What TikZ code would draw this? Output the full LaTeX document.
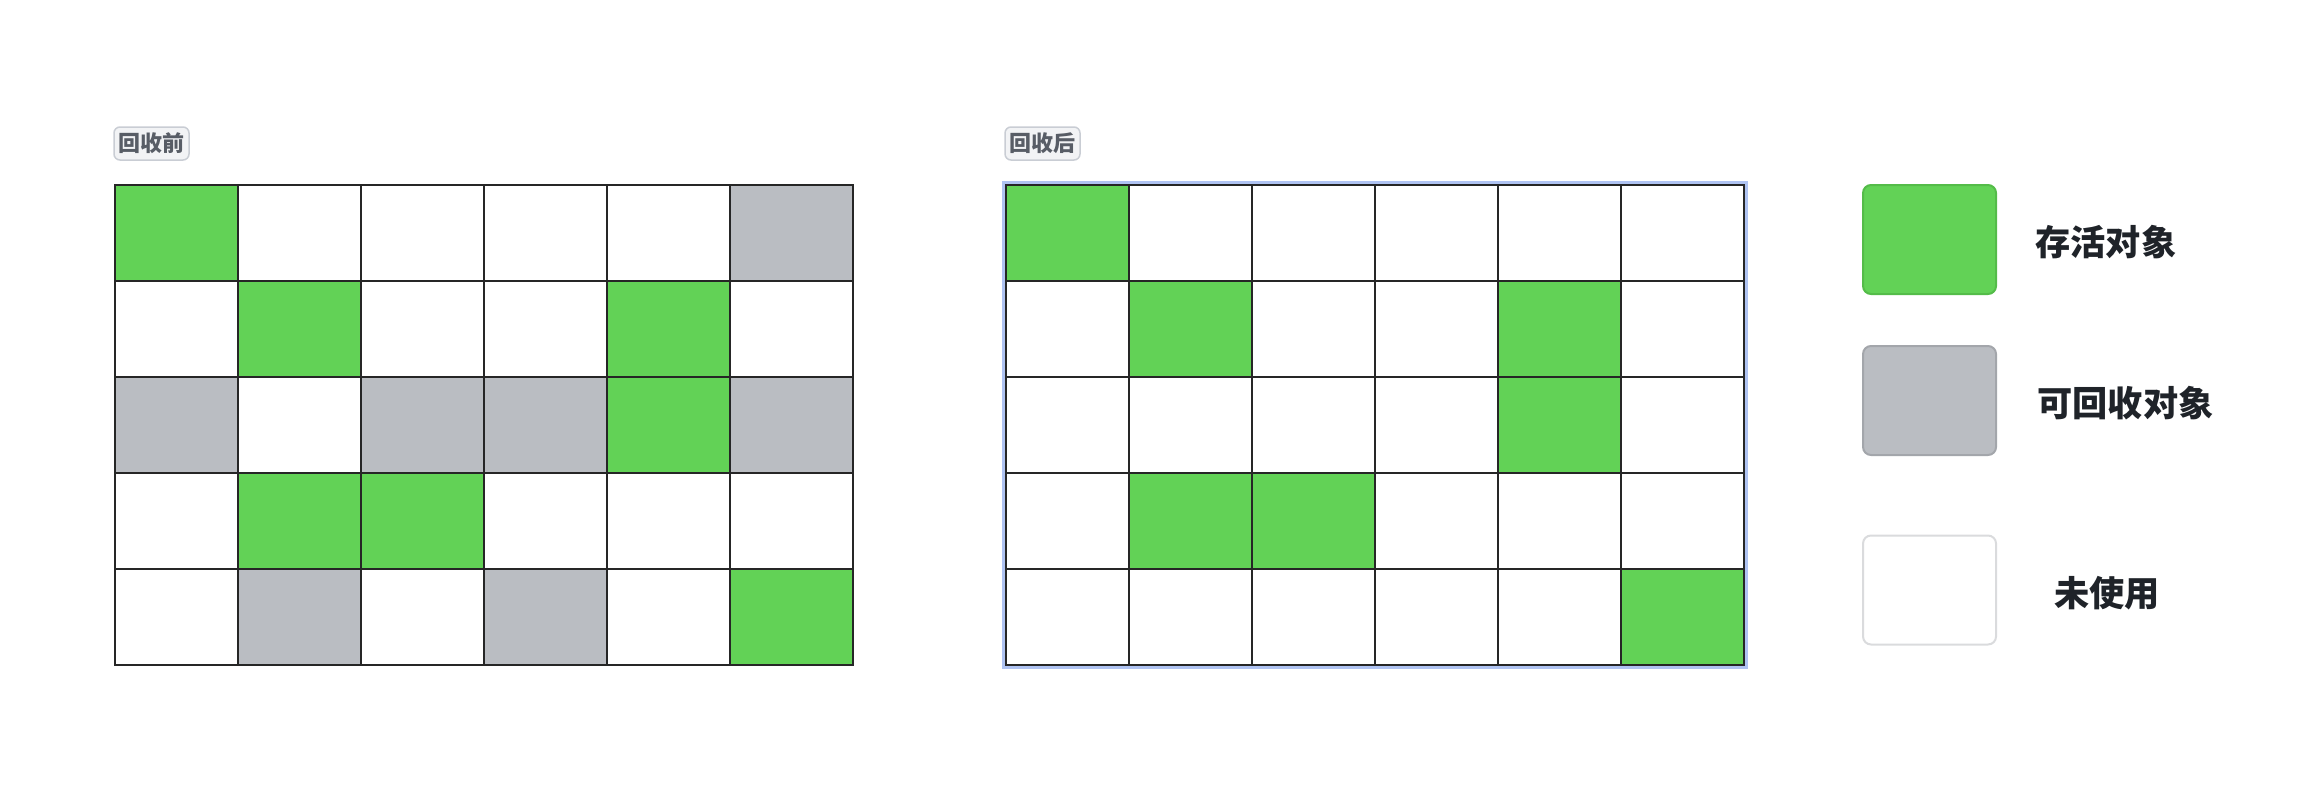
\documentclass[tikz,border=0pt]{standalone}
\usepackage{fontspec}
\newfontfamily\cjk{Noto Sans CJK SC}
\usetikzlibrary{fit,backgrounds}
\definecolor{cg}{HTML}{62D256}
\definecolor{cw}{HTML}{FFFFFF}
\definecolor{cx}{HTML}{BABDC2}
\definecolor{greenedge}{HTML}{54BC49}
\definecolor{grayedge}{HTML}{A3A6AB}
\definecolor{whiteedge}{HTML}{DADBDD}
\definecolor{tagfill}{HTML}{F2F3F5}
\definecolor{tagedge}{HTML}{C9CDD4}
\definecolor{tagtext}{HTML}{585D66}
\definecolor{legtext}{HTML}{1F2329}
\definecolor{selblue}{HTML}{AFC3F2}
\tikzset{
  cell/.style={draw=black!85, line width=0.75pt, minimum width=61.5pt, minimum height=48pt, inner sep=0pt, anchor=north west},
  tag/.style={draw=tagedge, fill=tagfill, rounded corners=3pt, line width=0.75pt, text=tagtext, font=\cjk\bfseries\fontsize{11pt}{13pt}\selectfont, minimum width=37.5pt, minimum height=16.5pt, inner sep=0pt},
  legbox/.style={rounded corners=4pt, line width=1pt, minimum width=66.5pt, minimum height=54.5pt, inner sep=0pt},
  legtxt/.style={anchor=west, inner sep=0pt, text=legtext, font=\cjk\bfseries\fontsize{17.6pt}{20pt}\selectfont}
}
\begin{document}
\begin{tikzpicture}[x=0.5pt,y=-0.5pt]
\useasboundingbox (0,0) rectangle (2310,808);
% tags
\node[tag] (tagL) at (151.5,143.5) {回收前};
\node[tag] (tagR) at (1042.5,143.5) {回收后};
% left grid
\foreach \row [count=\r] in {{cg,cw,cw,cw,cw,cx},{cw,cg,cw,cw,cg,cw},{cx,cw,cx,cx,cg,cx},{cw,cg,cg,cw,cw,cw},{cw,cx,cw,cx,cw,cg}}{
  \foreach \k [count=\c] in \row {
    \node[cell, fill=\k] (L-\r-\c) at ({114+123*(\c-1)},{184+96*(\r-1)}) {};
  }
}
% right grid
\foreach \row [count=\r] in {{cg,cw,cw,cw,cw,cw},{cw,cg,cw,cw,cg,cw},{cw,cw,cw,cw,cg,cw},{cw,cg,cg,cw,cw,cw},{cw,cw,cw,cw,cw,cg}}{
  \foreach \k [count=\c] in \row {
    \node[cell, fill=\k] (R-\r-\c) at ({1005+123*(\c-1)},{184+96*(\r-1)}) {};
  }
}
\begin{scope}[on background layer]
\node[draw=selblue, line width=1.5pt, inner sep=0.75pt, fit=(R-1-1)(R-5-6)] (sel) {};
\end{scope}
% legend
\node[legbox, draw=greenedge, fill=cg] (boxLive) at (1929.5,239.5) {};
\node[legbox, draw=grayedge, fill=cx] (boxGarb) at (1929.5,400.5) {};
\node[legbox, draw=whiteedge, fill=white] (boxFree) at (1929.5,590) {};
\node[legtxt] (txtLive) at (2035,242) {存活对象};
\node[legtxt] (txtGarb) at (2037,403) {可回收对象};
\node[legtxt] (txtFree) at (2054,593) {未使用};
\end{tikzpicture}
\end{document}
